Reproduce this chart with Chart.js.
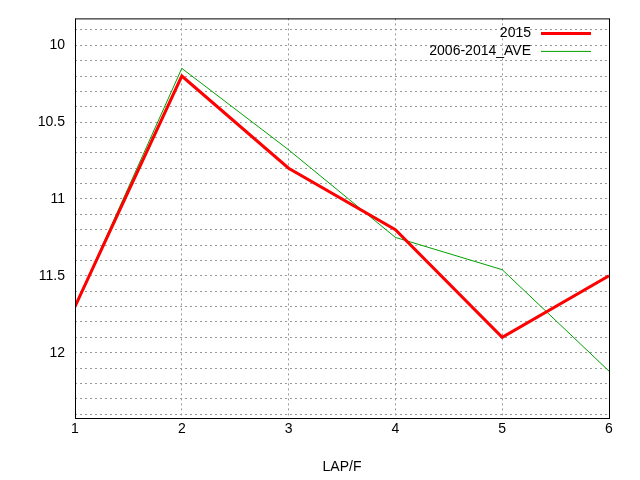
<!DOCTYPE html>
<html><head><script src="https://cdn.jsdelivr.net/npm/chart.js@4"></script>
<style>body{margin:0;background:#fff}</style></head><body>
<div style="width:640px;height:480px"><canvas id="c"></canvas></div>
<script>
const laps=[1,2,3,4,5,6];
const s2015=[11.7,10.2,10.8,11.2,11.9,11.5];
const sAve=[11.7,10.15,10.68,11.25,11.46,12.12];
const names=['2015','2006-2014_AVE'];
const colors=['#ff0000','#00a000'];
const widths=[3,1];
const legendPlugin={id:'lg',afterDraw(ch){const c=ch.ctx,a=ch.chartArea;c.save();c.font='14px "Liberation Sans", Arial';c.textAlign='right';c.textBaseline='middle';
names.forEach((n,i)=>{const y=a.top+15+i*18;c.fillStyle='#000';c.fillText(n,a.right-78,y);c.strokeStyle=colors[i];c.lineWidth=widths[i];c.beginPath();c.moveTo(a.right-68,y);c.lineTo(a.right-18,y);c.stroke();});
c.strokeStyle='#000';c.lineWidth=1;c.strokeRect(a.left+0.5,a.top+0.5,a.right-a.left,a.bottom-a.top);c.restore();}};
new Chart(document.getElementById('c'),{type:'line',
data:{datasets:[
{label:names[0],data:laps.map((x,i)=>({x,y:s2015[i]})),borderColor:colors[0],borderWidth:3,pointRadius:0,tension:0},
{label:names[1],data:laps.map((x,i)=>({x,y:sAve[i]})),borderColor:colors[1],borderWidth:1,pointRadius:0,tension:0}]},
options:{responsive:true,maintainAspectRatio:false,animation:false,
layout:{padding:{top:18,right:31}},
plugins:{legend:{display:false},tooltip:{enabled:false}},
scales:{
x:{type:'linear',min:1,max:6,afterFit(s){s.height=62;},
ticks:{stepSize:1,color:'#000',font:{size:14,family:'"Liberation Sans", Arial'}},
grid:{color:'#999',drawTicks:false},border:{display:false,dash:[2,3]},
title:{display:true,text:'LAP/F',color:'#000',font:{size:14,family:'"Liberation Sans", Arial'},padding:{top:8}}},
y:{reverse:true,min:9.825,max:12.425,afterFit(s){s.width=75;},
afterBuildTicks(s){const t=[];for(let k=99;k<=124;k++)t.push({value:k/10});s.ticks=t;},
ticks:{autoSkip:false,color:'#000',font:{size:14,family:'"Liberation Sans", Arial'},padding:10,
callback(v){const r=Math.round(v*10);return r%5===0?String(r/10):'';}},
grid:{color:'#999',drawTicks:false},border:{display:false,dash:[2,3]}}}},
plugins:[legendPlugin]});
</script></body></html>
